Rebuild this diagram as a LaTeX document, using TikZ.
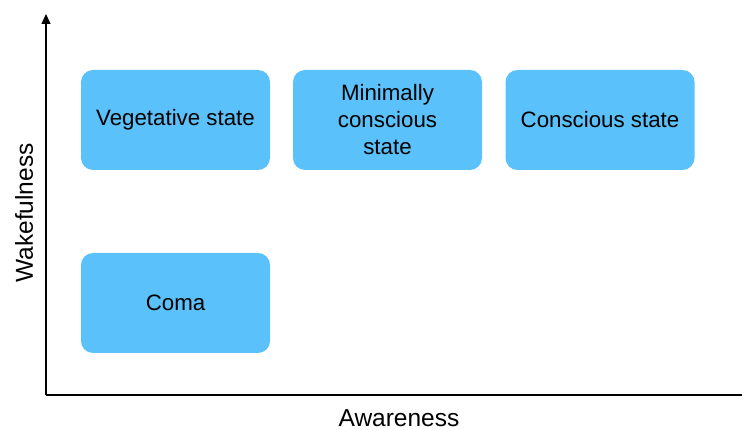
\documentclass[tikz,border=0pt]{standalone}
\usepackage{fontspec}
\setmainfont{Liberation Sans}
\usetikzlibrary{arrows.meta}
\definecolor{boxblue}{HTML}{5AC1FA}
\begin{document}
\begin{tikzpicture}[x=1pt,y=-1pt,
  statebox/.style={fill=boxblue, draw=none, rounded corners=12pt, minimum width=189pt, minimum height=100pt, align=center, font=\fontsize{22.3}{27}\selectfont, inner sep=0pt},
  axislabel/.style={font=\fontsize{24.5}{28}\selectfont},
  axis/.style={line width=1.3pt}]
\useasboundingbox (0,0) rectangle (742,430);
\coordinate (origin) at (46,395);
\coordinate (ytop) at (46,14);
\coordinate (xend) at (742,395);
\draw[axis, -{Triangle[length=10pt,width=9pt]}] (origin) -- (ytop);
\draw[axis] (origin) -- (xend);
\node[statebox] (veg) at (175.5,120) {Vegetative state};
\node[statebox] (mcs) at (387.5,120) {Minimally\\conscious\\state};
\node[statebox] (cons) at (600,120) {Conscious state};
\node[statebox] (coma) at (175.5,303) {Coma};
\node[axislabel] (xlab) at (399,418) {Awareness};
\node[axislabel, rotate=90] (ylab) at (24,213) {Wakefulness};
\end{tikzpicture}
\end{document}
